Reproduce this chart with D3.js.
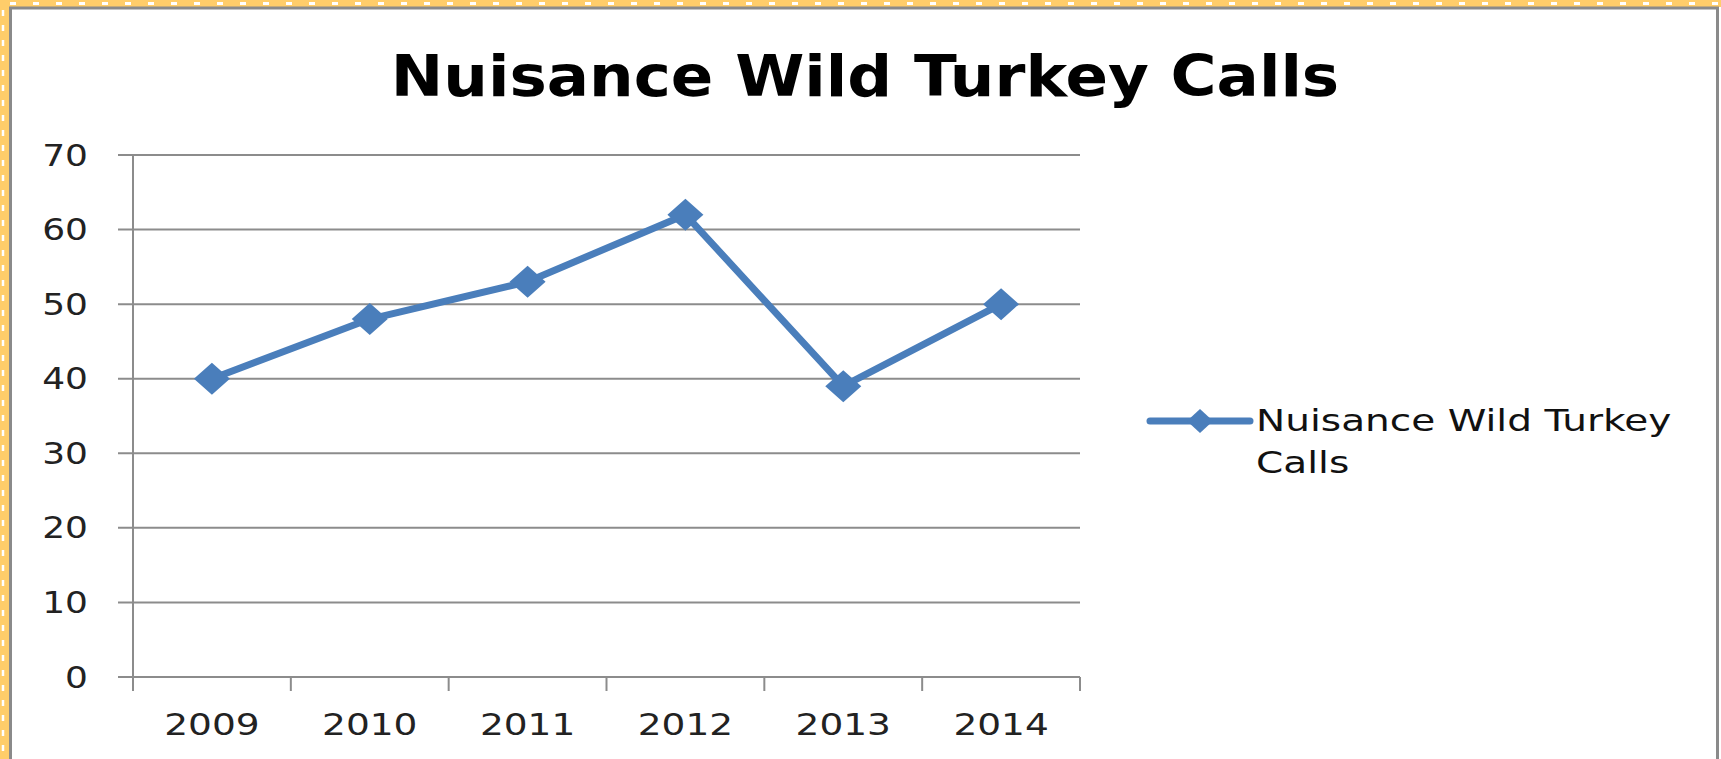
<!DOCTYPE html>
<html>
<head>
<meta charset="utf-8">
<script src="https://cdn.jsdelivr.net/npm/d3@7"></script>
<style>
    body { margin: 0; background: #fff; }
    text { font-family: "DejaVu Sans", Verdana, sans-serif; }
</style>
</head>
<body>
<div id="lineChart"></div>
<script>
var years = ["2009", "2010", "2011", "2012", "2013", "2014"];
var calls = [40, 48, 53, 62, 39, 50];
var yTicks = [0, 10, 20, 30, 40, 50, 60, 70];
var chartTitle = "Nuisance Wild Turkey Calls";
var legendLines = ["Nuisance Wild Turkey", "Calls"];

var W = 1721, H = 759;
var blue = "#4a7ebb", grid = "#8c8c8c", yellow = "#ffcd6a";

// plot area in page pixels
var margin = { top: 155, right: 641, bottom: 82, left: 133 },
    width = W - margin.left - margin.right,
    height = H - margin.top - margin.bottom;

var root = d3.select("#lineChart")
    .append("svg")
    .attr("width", W)
    .attr("height", H);

// outer frame: yellow dashed band + grey border
root.append("rect").attr("x", 0).attr("y", 0).attr("width", W).attr("height", 7).attr("fill", yellow);
root.append("rect").attr("x", 0).attr("y", 0).attr("width", 9).attr("height", H).attr("fill", yellow);
root.append("line").attr("x1", 10).attr("x2", W).attr("y1", 3.5).attr("y2", 3.5)
    .attr("stroke", "#fff").attr("stroke-width", 3).attr("stroke-dasharray", "6,17");
root.append("line").attr("x1", 3).attr("x2", 3).attr("y1", 10).attr("y2", H)
    .attr("stroke", "#fff").attr("stroke-width", 2.5).attr("stroke-dasharray", "6,9");
root.append("rect")
    .attr("x", 10.5).attr("y", 8)
    .attr("width", W - 14).attr("height", H + 20)
    .attr("fill", "#fff")
    .attr("stroke", "#8a8a8a").attr("stroke-width", 3);

// title
root.append("text")
    .attr("transform", "translate(865,96) scale(1.1,1)")
    .attr("text-anchor", "middle")
    .attr("font-size", 57)
    .attr("font-weight", "bold")
    .attr("fill", "#000")
    .text(chartTitle);

var svg = root.append("g")
    .attr("transform", "translate(" + margin.left + "," + margin.top + ")");

var x = d3.scaleBand().domain(years).range([0, width]);
var y = d3.scaleLinear().domain([0, 70]).range([height, 0]);

// gridlines
svg.selectAll(".grid").data(yTicks)
    .enter().append("line")
    .attr("x1", -15).attr("x2", width)
    .attr("y1", d => y(d)).attr("y2", d => y(d))
    .attr("stroke", grid).attr("stroke-width", 2);

// y axis line
svg.append("line")
    .attr("x1", 0).attr("x2", 0).attr("y1", 0).attr("y2", height)
    .attr("stroke", grid).attr("stroke-width", 2);

// y labels
svg.selectAll(".ylab").data(yTicks)
    .enter().append("text")
    .attr("transform", d => "translate(-45," + y(d) + ") scale(1.22,1)")
    .attr("dy", "0.36em")
    .attr("text-anchor", "end")
    .attr("font-size", 29.5)
    .attr("fill", "#222")
    .text(d => d);

// x ticks at band edges
var edges = years.map(d => x(d)).concat([width]);
svg.selectAll(".xtick").data(edges)
    .enter().append("line")
    .attr("x1", d => d).attr("x2", d => d)
    .attr("y1", height).attr("y2", height + 14)
    .attr("stroke", grid).attr("stroke-width", 2);

// x labels
svg.selectAll(".xlab").data(years)
    .enter().append("text")
    .attr("transform", d => "translate(" + (x(d) + x.bandwidth() / 2) + "," + (height + 58) + ") scale(1.25,1)")
    .attr("text-anchor", "middle")
    .attr("font-size", 30)
    .attr("fill", "#222")
    .text(d => d);

var data = years.map((d, i) => ({ year: d, value: calls[i] }));
var cx = d => x(d.year) + x.bandwidth() / 2;

// the line
svg.append("path")
    .datum(data)
    .attr("fill", "none")
    .attr("stroke", blue)
    .attr("stroke-width", 7)
    .attr("stroke-linejoin", "round")
    .attr("d", d3.line().x(cx).y(d => y(d.value)));

function diamond(w, h) {
    return "M0," + (-h) + "L" + w + ",0L0," + h + "L" + (-w) + ",0Z";
}

// markers
svg.selectAll(".dot").data(data)
    .enter().append("path")
    .attr("transform", d => "translate(" + cx(d) + "," + y(d.value) + ")")
    .attr("d", diamond(18, 16))
    .attr("fill", blue);

// legend
var legend = root.append("g").attr("transform", "translate(1150,421)");
legend.append("line")
    .attr("x1", 0).attr("x2", 100)
    .attr("stroke", blue).attr("stroke-width", 7).attr("stroke-linecap", "round");
legend.append("path")
    .attr("transform", "translate(50,0)")
    .attr("d", diamond(13, 12))
    .attr("fill", blue);
legend.selectAll(".ltext").data(legendLines)
    .enter().append("text")
    .attr("transform", (d, i) => "translate(106," + (10 + i * 42) + ") scale(1.26,1)")
    .attr("font-size", 31)
    .attr("fill", "#111")
    .text(d => d);
</script>
</body>
</html>
